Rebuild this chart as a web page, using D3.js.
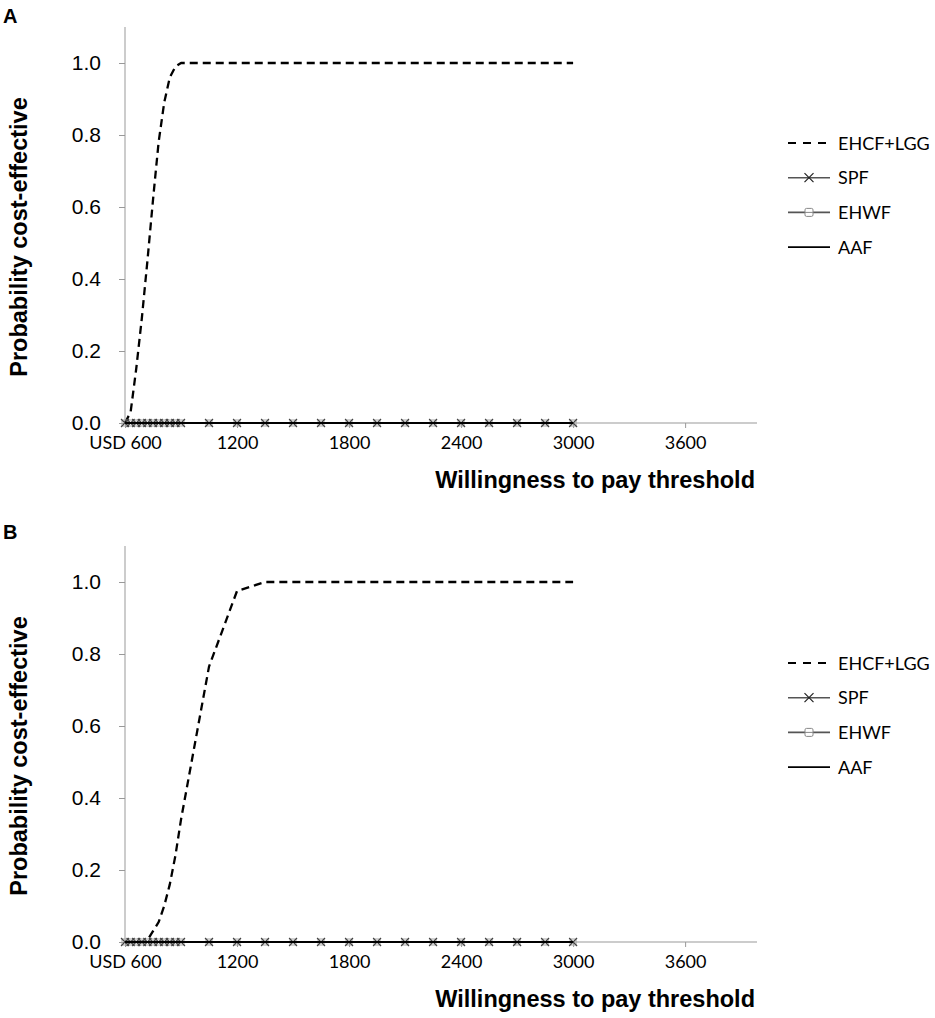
<!DOCTYPE html>
<html>
<head>
<meta charset="utf-8">
<script src="https://cdn.jsdelivr.net/npm/d3@7"></script>
<style>
  body { margin: 0; background: #fff; }
  .ytick text { font-family: "Liberation Sans", Arial, sans-serif; font-size: 21px; fill: #000; }
  .xtick text { font-family: Lato, "Open Sans", sans-serif; font-size: 18px; fill: #000; }
  .legend text { font-family: Lato, "Open Sans", sans-serif; font-size: 18px; fill: #000; }
  .title { font-family: "Liberation Sans", Arial, sans-serif; font-weight: bold; font-size: 23.5px; fill: #000; }
  .letter { font-family: "Liberation Sans", Arial, sans-serif; font-weight: bold; font-size: 20px; fill: #000; }
</style>
</head>
<body>
<svg id="chart"></svg>
<script>
// willingness to pay points (USD)
const wtp = [600, 630, 660, 690, 720, 750, 780, 810, 840, 870, 900,
  1050, 1200, 1350, 1500, 1650, 1800, 1950, 2100, 2250, 2400, 2550, 2700, 2850, 3000];

// panel A: probability cost-effective
const ehcfA = [0, 0.03, 0.15, 0.29, 0.45, 0.62, 0.78, 0.89, 0.96, 0.99, 1.0,
  1, 1, 1, 1, 1, 1, 1, 1, 1, 1, 1, 1, 1, 1];
// panel B
const ehcfB = [0, 0, 0, 0, 0.005, 0.03, 0.055, 0.1, 0.16, 0.24, 0.34,
  0.765, 0.975, 1, 1, 1, 1, 1, 1, 1, 1, 1, 1, 1, 1];

const spf  = [0, 0, 0, 0, 0, 0, 0, 0, 0, 0, 0, 0, 0, 0, 0, 0, 0, 0, 0, 0, 0, 0, 0, 0, 0];
const ehwf = [0, 0, 0, 0, 0, 0, 0, 0, 0, 0, 0, 0, 0, 0, 0, 0, 0, 0, 0, 0, 0, 0, 0, 0, 0];
const aaf  = [0, 0, 0, 0, 0, 0, 0, 0, 0, 0, 0, 0, 0, 0, 0, 0, 0, 0, 0, 0, 0, 0, 0, 0, 0];

const xTicks = [600, 1200, 1800, 2400, 3000, 3600];
const xTickLabels = ['USD 600', '1200', '1800', '2400', '3000', '3600'];
const yTicks = [0, 0.2, 0.4, 0.6, 0.8, 1.0];
const seriesNames = ['EHCF+LGG', 'SPF', 'EHWF', 'AAF'];

const width = 935, height = 1018;
const svg = d3.select('#chart').attr('width', width).attr('height', height);

const xScale = d3.scaleLinear().domain([600, 3985]).range([125, 757]);

function drawPanel(ehcf, letter, top, legendTop) {
  const g = svg.append('g').attr('transform', `translate(0,${top})`);
  const yScale = d3.scaleLinear().domain([0, 1.1]).range([423, 27]);

  // panel letter
  g.append('text').attr('class', 'letter')
    .attr('x', 3).attr('y', letter === 'A' ? 23 : 20)
    .text(letter);

  // y axis
  const yAxis = d3.axisLeft(yScale).tickValues(yTicks).tickSize(6).tickPadding(18)
    .tickFormat(d3.format('.1f'));
  g.append('g').attr('class', 'ytick')
    .attr('transform', `translate(${xScale(600)},0)`)
    .call(yAxis)
    .call(a => a.select('.domain').remove())
    .call(a => a.selectAll('line').attr('stroke', '#999'))
    .call(a => a.selectAll('text').attr('dy', '0.3em'));
  g.append('line')
    .attr('x1', xScale(600)).attr('x2', xScale(600))
    .attr('y1', yScale(1.1)).attr('y2', yScale(0))
    .attr('stroke', '#999');

  // x axis
  const xAxis = d3.axisBottom(xScale).tickValues(xTicks).tickSize(5).tickPadding(8)
    .tickFormat((d, i) => xTickLabels[i]);
  g.append('g').attr('class', 'xtick')
    .attr('transform', `translate(0,${yScale(0)})`)
    .call(xAxis)
    .call(a => a.select('.domain').attr('stroke', '#999').attr('d', `M${xScale(600)},0H${xScale(3985)}`))
    .call(a => a.selectAll('line').attr('stroke', '#999'));

  // titles
  g.append('text').attr('class', 'title')
    .attr('transform', `translate(27,237) rotate(-90)`)
    .attr('text-anchor', 'middle')
    .text('Probability cost-effective');
  g.append('text').attr('class', 'title')
    .attr('x', 755).attr('y', 488)
    .attr('text-anchor', 'end')
    .text('Willingness to pay threshold');

  const line = d3.line()
    .x((d, i) => xScale(wtp[i]))
    .y(d => yScale(d));

  // EHCF+LGG dashed
  g.append('path')
    .attr('d', line(ehcf))
    .attr('fill', 'none').attr('stroke', '#000')
    .attr('stroke-width', 2.3).attr('stroke-dasharray', '8,5')
    .attr('stroke-linejoin', 'round');

  // SPF
  g.append('path').attr('d', line(spf))
    .attr('fill', 'none').attr('stroke', '#7f7f7f').attr('stroke-width', 2);

  // EHWF
  g.append('path').attr('d', line(ehwf))
    .attr('fill', 'none').attr('stroke', '#7f7f7f').attr('stroke-width', 2);
  g.selectAll('.ehwf-mark').data(ehwf).join('rect')
    .attr('class', 'ehwf-mark')
    .attr('x', (d, i) => xScale(wtp[i]) - 3).attr('y', d => yScale(d) - 3)
    .attr('width', 6).attr('height', 6)
    .attr('fill', 'none').attr('stroke', '#a6a6a6').attr('stroke-width', 1);

  g.selectAll('.spf-mark').data(spf).join('path')
    .attr('class', 'spf-mark')
    .attr('transform', (d, i) => `translate(${xScale(wtp[i])},${yScale(d)})`)
    .attr('d', 'M-4,-4L4,4M-4,4L4,-4')
    .attr('stroke', '#444').attr('stroke-width', 1.1).attr('fill', 'none');

  // AAF
  g.append('path').attr('d', line(aaf))
    .attr('fill', 'none').attr('stroke', '#000').attr('stroke-width', 2);

  // legend
  const lg = g.append('g').attr('class', 'legend')
    .attr('transform', `translate(788,${legendTop})`);
  const rowGap = 34.7;
  seriesNames.forEach((name, i) => {
    const row = lg.append('g').attr('transform', `translate(0,${i * rowGap})`);
    const ln = row.append('line').attr('x1', 0).attr('x2', 42).attr('y1', 0).attr('y2', 0)
      .attr('stroke-width', 1.6);
    if (i === 0) ln.attr('stroke', '#000').attr('stroke-dasharray', '8,7').attr('stroke-width', 2);
    else if (i === 3) ln.attr('stroke', '#000');
    else ln.attr('stroke', '#555');
    if (i === 1) {
      row.append('path').attr('transform', 'translate(21,0)')
        .attr('d', 'M-4.5,-4.5L4.5,4.5M-4.5,4.5L4.5,-4.5').attr('stroke', '#222').attr('stroke-width', 1.2);
    }
    if (i === 2) {
      row.append('rect').attr('x', 17).attr('y', -4).attr('width', 8).attr('height', 8)
        .attr('rx', 1.5).attr('fill', '#fff').attr('stroke', '#888').attr('stroke-width', 1);
      row.append('line').attr('x1', 17).attr('x2', 25).attr('stroke', '#888').attr('stroke-width', 1);
    }
    row.append('text').attr('x', 50).attr('y', 6.5).text(name);
  });
}

drawPanel(ehcfA, 'A', 0, 143);
drawPanel(ehcfB, 'B', 519, 144);
</script>
</body>
</html>
